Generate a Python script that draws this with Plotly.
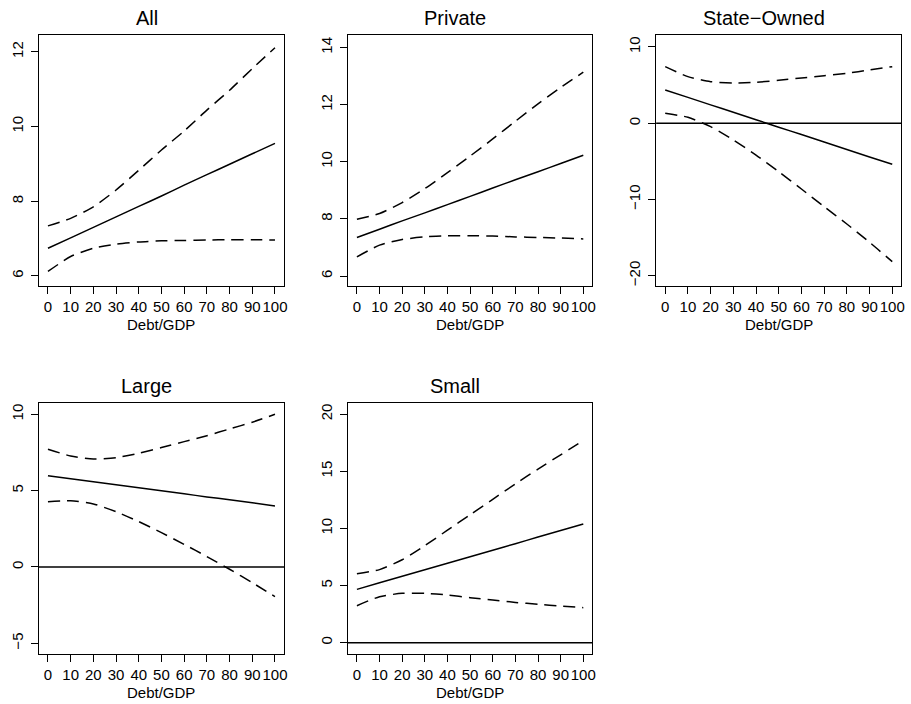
import plotly.graph_objects as go

# ---------------- data ----------------
debt_gdp = [0, 10, 20, 30, 40, 50, 60, 70, 80, 90, 100]

panel_titles = ["All", "Private", "State\u2212Owned", "Large", "Small"]

all_est   = [6.74, 7.02, 7.30, 7.58, 7.86, 8.14, 8.43, 8.71, 8.99, 9.27, 9.55]
all_upper = [7.34, 7.54, 7.85, 8.30, 8.83, 9.37, 9.88, 10.44, 10.97, 11.55, 12.11]
all_lower = [6.12, 6.52, 6.74, 6.85, 6.91, 6.94, 6.95, 6.96, 6.97, 6.97, 6.96]

private_est   = [7.35, 7.64, 7.93, 8.21, 8.50, 8.79, 9.08, 9.37, 9.65, 9.94, 10.23]
private_upper = [7.99, 8.19, 8.57, 9.06, 9.62, 10.20, 10.80, 11.42, 12.03, 12.60, 13.14]
private_lower = [6.67, 7.08, 7.28, 7.37, 7.41, 7.41, 7.40, 7.37, 7.35, 7.33, 7.30]

state_est   = [4.36, 3.39, 2.41, 1.44, 0.46, -0.52, -1.49, -2.47, -3.44, -4.42, -5.39]
state_upper = [7.42, 6.11, 5.45, 5.28, 5.37, 5.63, 5.93, 6.24, 6.55, 6.98, 7.42]
state_lower = [1.31, 0.78, -0.45, -2.20, -4.17, -6.36, -8.63, -10.95, -13.22, -15.62, -18.16]

large_est   = [5.98, 5.78, 5.58, 5.39, 5.19, 4.99, 4.79, 4.59, 4.40, 4.20, 4.00]
large_upper = [7.71, 7.27, 7.07, 7.16, 7.45, 7.82, 8.21, 8.60, 9.04, 9.48, 10.00]
large_lower = [4.28, 4.34, 4.13, 3.62, 2.97, 2.25, 1.48, 0.68, -0.15, -1.03, -1.94]

small_est   = [4.67, 5.24, 5.81, 6.39, 6.96, 7.53, 8.10, 8.67, 9.25, 9.82, 10.39]
small_upper = [6.03, 6.40, 7.26, 8.50, 9.85, 11.20, 12.55, 13.90, 15.20, 16.45, 17.69]
small_lower = [3.24, 4.03, 4.32, 4.32, 4.18, 3.94, 3.74, 3.53, 3.36, 3.21, 3.07]

x_ticks = [0, 10, 20, 30, 40, 50, 60, 70, 80, 90, 100]
y_ticks = [
    [6, 8, 10, 12],
    [6, 8, 10, 12, 14],
    [-20, -10, 0, 10],
    [-5, 0, 5, 10],
    [0, 5, 10, 15, 20],
]
zero_line = 0
panels_with_zero = [False, False, True, True, True]
x_label = "Debt/GDP"

# ---------------- layout geometry ----------------
W, H = 911, 704
FONT = "Liberation Sans, Arial, Helvetica, sans-serif"

# pixel boxes (left, right, top, bottom)
boxes = [
    (39, 285, 35, 286),
    (349, 594.3, 35, 286),
    (658.3, 904.3, 35, 286),
    (39, 285, 403.3, 654),
    (349, 594.3, 403.3, 654),
]
y_ranges = [
    [5.73, 12.45],
    [5.65, 14.44],
    [-21.35, 11.57],
    [-5.70, 10.72],
    [-0.99, 20.96],
]
x_range = [-4, 104]

series = [
    (all_est, all_upper, all_lower),
    (private_est, private_upper, private_lower),
    (state_est, state_upper, state_lower),
    (large_est, large_upper, large_lower),
    (small_est, small_upper, small_lower),
]

fig = go.Figure()
layout = dict(
    width=W, height=H,
    margin=dict(l=0, r=0, t=0, b=0),
    paper_bgcolor="white", plot_bgcolor="white",
    showlegend=False,
    font=dict(family=FONT, color="black", size=14),
)
annotations = []
shapes = []

for i, (est, up, lo) in enumerate(series):
    n = i + 1
    xa = "x" if n == 1 else f"x{n}"
    ya = "y" if n == 1 else f"y{n}"
    for vals, dash in ((est, "solid"), (up, "12px,7px"), (lo, "12px,7px")):
        fig.add_trace(go.Scatter(
            x=debt_gdp, y=vals, mode="lines",
            line=dict(color="black", width=1.5, dash=dash, shape="spline", smoothing=0.6),
            xaxis=xa, yaxis=ya, hoverinfo="skip",
        ))
    l, r, t, b = boxes[i]
    common = dict(
        showline=True, linecolor="black", linewidth=1.2, mirror=True,
        ticks="outside", ticklen=7, tickwidth=1, tickcolor="black",
        showgrid=False, zeroline=False,
        tickfont=dict(family=FONT, size=15, color="black"),
    )
    layout["xaxis" if n == 1 else f"xaxis{n}"] = dict(
        domain=[l / W, r / W], anchor=ya, range=x_range,
        tickmode="array", tickvals=x_ticks, ticktext=[str(v) for v in x_ticks],
        tickangle=0,
        **common,
    )
    layout["yaxis" if n == 1 else f"yaxis{n}"] = dict(
        domain=[1 - b / H, 1 - t / H], anchor=xa, range=y_ranges[i],
        tickmode="array", tickvals=y_ticks[i], tickangle=-90,
        ticklabelstandoff=2,
        **common,
    )
    # title
    annotations.append(dict(
        text=panel_titles[i], xref="paper", yref="paper",
        x=((l + r) / 2 - 15) / W, y=1 - (t - 17) / H,
        xanchor="center", yanchor="middle", showarrow=False,
        font=dict(family=FONT, size=20, color="black"),
    ))
    # axis label
    annotations.append(dict(
        text=x_label, xref="paper", yref="paper",
        x=((l + r) / 2) / W, y=1 - (b + 38) / H,
        xanchor="center", yanchor="middle", showarrow=False,
        font=dict(family=FONT, size=15, color="black"),
    ))
    if panels_with_zero[i]:
        shapes.append(dict(
            type="line", xref=f"{xa} domain", yref=ya,
            x0=0, x1=1, y0=zero_line, y1=zero_line,
            line=dict(color="black", width=1.5),
        ))

layout["annotations"] = annotations
layout["shapes"] = shapes
fig.update_layout(**layout)
fig.write_html(
    "out.html",
    config={"displayModeBar": False},
    post_script="document.body.style.margin='0';document.body.style.overflow='hidden';",
)
